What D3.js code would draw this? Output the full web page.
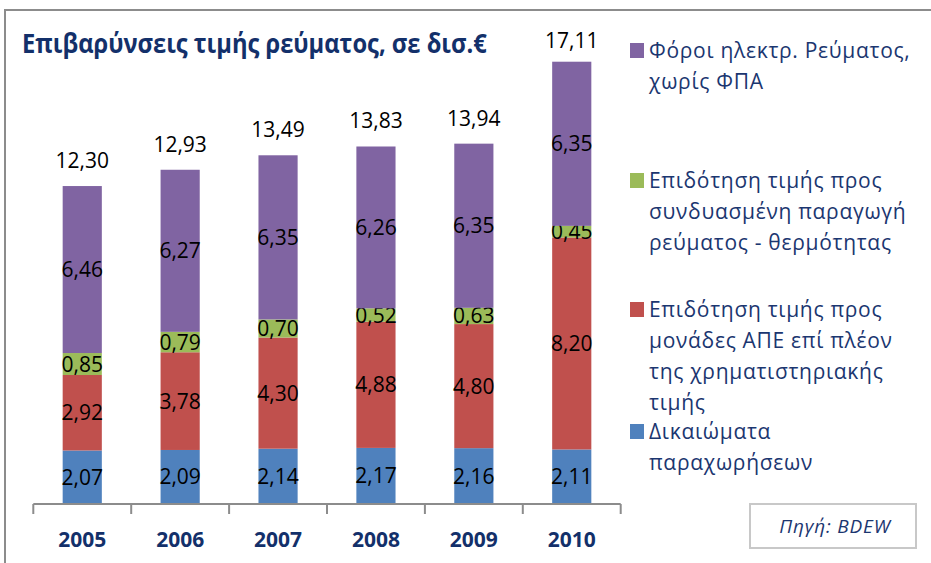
<!DOCTYPE html>
<html lang="el">
<head>
    <meta charset="UTF-8">
    <title>Επιβαρύνσεις τιμής ρεύματος</title>
    <script src="https://d3js.org/d3.v7.min.js"></script>
    <style>
        body { margin: 0; background: #fff; }
        svg text { font-family: "Open Sans", "Noto Sans", sans-serif; }
        .title { font-size: 27px; font-weight: bold; fill: #13306a; }
        .val { font-size: 21px; fill: #000; }
        .year { font-size: 21px; font-weight: bold; fill: #13306a; }
        .leg { font-size: 21px; letter-spacing: 0.7px; fill: #1b3670; }
        .src { font-size: 19px; font-style: italic; letter-spacing: 0.8px; fill: #1b3670; }
    </style>
</head>
<body>
    <div id="chart"></div>
    <script>
        var w = 931;
        var h = 563;

        var years = ["2005", "2006", "2007", "2008", "2009", "2010"];
        var rights = [2.07, 2.09, 2.14, 2.17, 2.16, 2.11];      // Δικαιώματα παραχωρήσεων
        var resSubsidy = [2.92, 3.78, 4.30, 4.88, 4.80, 8.20];  // ΑΠΕ
        var chpSubsidy = [0.85, 0.79, 0.70, 0.52, 0.63, 0.45];  // συμπαραγωγή
        var taxes = [6.46, 6.27, 6.35, 6.26, 6.35, 6.35];       // φόροι
        var totals = [12.30, 12.93, 13.49, 13.83, 13.94, 17.11];

        var keys = ["rights", "res", "chp", "tax"];
        var colors = { rights: "#4f81bd", res: "#c0504d", chp: "#9bbb59", tax: "#8064a2" };

        // legend, top to bottom
        var legendKeys = ["tax", "chp", "res", "rights"];
        var legendLines = [
            ["Φόροι ηλεκτρ. Ρεύματος,", "χωρίς ΦΠΑ"],
            ["Επιδότηση τιμής προς", "συνδυασμένη παραγωγή", "ρεύματος - θερμότητας"],
            ["Επιδότηση τιμής προς", "μονάδες ΑΠΕ επί πλέον", "της χρηματιστηριακής", "τιμής"],
            ["Δικαιώματα", "παραχωρήσεων"]
        ];

        var title = "Επιβαρύνσεις τιμής ρεύματος, σε δισ.€";
        var source = "Πηγή: BDEW";

        var rows = years.map(function(y, i) {
            return { year: y, rights: rights[i], res: resSubsidy[i], chp: chpSubsidy[i], tax: taxes[i], total: totals[i] };
        });

        var fmt = function(v) { return d3.format(".2f")(v).replace(".", ","); };

        var svg = d3.select("#chart")
                    .append("svg")
                    .attr("width", w)
                    .attr("height", h);

        // outer frame (cut off at right and bottom like the screenshot)
        svg.append("rect")
           .attr("x", 5).attr("y", 10)
           .attr("width", 960).attr("height", 600)
           .attr("fill", "none")
           .attr("stroke", "#8c8c8c")
           .attr("stroke-width", 2);

        // title: squeeze horizontally to the narrow width of the original font
        var titleText = svg.append("text")
           .attr("class", "title")
           .text(title);
        var natural = titleText.node().getComputedTextLength();
        titleText.attr("transform", "translate(22,53) scale(" + (465 / natural) + ",1)");

        var xScale = d3.scaleBand()
                       .domain(years)
                       .range([33.3, 620.7]);
        var barW = xScale.bandwidth() * 0.4;

        var yScale = d3.scaleLinear()
                       .domain([0, 18])
                       .range([504, 504 - 18 * 25.85]);

        var series = d3.stack().keys(keys)(rows);

        var layers = svg.selectAll("g.layer")
           .data(series)
           .enter()
           .append("g")
           .attr("class", "layer")
           .attr("fill", function(d) { return colors[d.key]; });

        layers.selectAll("rect")
           .data(function(d) { return d; })
           .enter()
           .append("rect")
           .attr("x", function(d) { return xScale(d.data.year) + (xScale.bandwidth() - barW) / 2; })
           .attr("y", function(d) { return yScale(d[1]); })
           .attr("width", barW)
           .attr("height", function(d) { return yScale(d[0]) - yScale(d[1]); });

        // segment values
        layers.selectAll("text")
           .data(function(d) { return d.map(function(p) { return { p: p, key: d.key }; }); })
           .enter()
           .append("text")
           .attr("class", "val")
           .attr("text-anchor", "middle")
           .attr("x", function(d) { return xScale(d.p.data.year) + xScale.bandwidth() / 2; })
           .attr("y", function(d) { return (yScale(d.p[0]) + yScale(d.p[1])) / 2 + 7.5; })
           .text(function(d) { return fmt(d.p.data[d.key]); });

        // totals above bars
        svg.selectAll("text.total")
           .data(rows)
           .enter()
           .append("text")
           .attr("class", "val total")
           .attr("text-anchor", "middle")
           .attr("x", function(d) { return xScale(d.year) + xScale.bandwidth() / 2; })
           .attr("y", function(d) { return Math.max(yScale(d.total) - 18, 48); })
           .text(function(d) { return fmt(d.total); });

        // category axis with ticks on band edges
        var edges = years.map(function(y) { return xScale(y); }).concat([xScale.range()[1]]);
        var axis = svg.append("g").attr("stroke", "#8c8c8c").attr("stroke-width", 2);
        axis.append("line")
            .attr("x1", xScale.range()[0]).attr("x2", xScale.range()[1])
            .attr("y1", yScale(0)).attr("y2", yScale(0));
        axis.selectAll("line.tick")
            .data(edges)
            .enter()
            .append("line")
            .attr("class", "tick")
            .attr("x1", function(d) { return d; }).attr("x2", function(d) { return d; })
            .attr("y1", yScale(0)).attr("y2", yScale(0) + 10);

        svg.selectAll("text.year")
           .data(years)
           .enter()
           .append("text")
           .attr("class", "year")
           .attr("text-anchor", "middle")
           .attr("x", function(d) { return xScale(d) + xScale.bandwidth() / 2; })
           .attr("y", 547)
           .text(function(d) { return d; });

        // legend
        var legTop = [58, 188, 317, 439];
        var lineH = 31;
        var leg = svg.selectAll("g.leg")
           .data(legendKeys)
           .enter()
           .append("g")
           .attr("class", "leg")
           .attr("transform", function(d, i) { return "translate(630," + legTop[i] + ")"; });

        leg.append("rect")
           .attr("x", 0).attr("y", -15)
           .attr("width", 14).attr("height", 15)
           .attr("fill", function(d) { return colors[d]; });

        leg.each(function(d, i) {
            d3.select(this).selectAll("text")
              .data(legendLines[i])
              .enter()
              .append("text")
              .attr("class", "leg")
              .attr("x", 19)
              .attr("y", function(t, j) { return j * lineH; })
              .text(function(t) { return t; });
        });

        // source box
        svg.append("rect")
           .attr("x", 750).attr("y", 504)
           .attr("width", 166).attr("height", 44)
           .attr("fill", "#fff")
           .attr("stroke", "#c8c8c8")
           .attr("stroke-width", 2);
        svg.append("text")
           .attr("class", "src")
           .attr("text-anchor", "middle")
           .attr("x", 835).attr("y", 533)
           .text(source);
    </script>
</body>
</html>
